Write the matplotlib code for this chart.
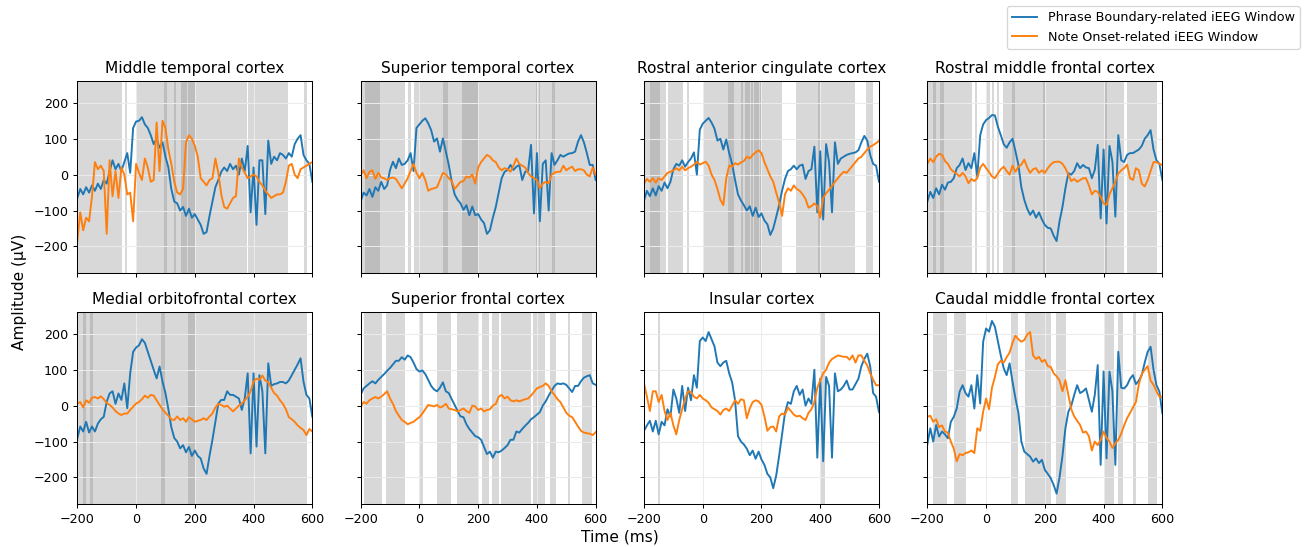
import numpy as np
import matplotlib
matplotlib.use('agg')
import matplotlib.pyplot as plt

# time axis of the averaged windows (ms), one sample every 10 ms
times = np.arange(-200, 601, 10)

regions = ['Middle temporal cortex', 'Superior temporal cortex',
           'Rostral anterior cingulate cortex', 'Rostral middle frontal cortex',
           'Medial orbitofrontal cortex', 'Superior frontal cortex',
           'Insular cortex', 'Caudal middle frontal cortex']

# phrase boundary-related averages (uV)
pb_mt = [-65, -40, -55, -35, -50, -30, -45, -25, -40, -15,
         -25, 10, 40, 15, 30, 10, 35, 60, 5, 130,
         148, 150, 160, 140, 130, 110, 85, 100, 75, 90,
         50, 20, -40, -75, -80, -100, -90, -115, -95, -120,
         -110, -125, -140, -165, -160, -115, -75, -35, -15, 8,
         20, 10, 30, 15, 25, 0, 45, 10, 80, -105,
         20, -140, 40, 40, -110, 95, 30, 50, 40, 60,
         55, 45, 60, 50, 85, 100, 110, 55, 40, 30,
         -20]
pb_st = [-75, -50, -58, -40, -62, -35, -45, -20, -40, -30,
         13, 36, 18, 45, 27, 30, 40, 60, 10, 130,
         140, 150, 157, 143, 124, 92, 101, 64, 101, 64,
         27, -20, -55, -70, -80, -98, -85, -113, -89, -113,
         -110, -125, -135, -165, -155, -120, -90, -50, -10, 8,
         13, 27, 13, 22, 27, -15, 8, 10, 83, -108,
         60, -130, 30, 40, -100, 60, 27, 40, 55, 50,
         55, 59, 60, 64, 92, 110, 90, 60, 27, 27,
         -15]
pb_rac = [-72, -45, -60, -38, -58, -32, -45, -22, -38, -20,
          15, 30, 25, 40, 22, 35, 45, 62, 0, 125,
          142, 150, 158, 145, 128, 95, 100, 70, 98, 60,
          30, -15, -55, -72, -85, -100, -88, -115, -92, -118,
          -108, -128, -138, -168, -150, -118, -85, -45, -12, 10,
          15, 25, 15, 25, 28, -12, 10, 15, 78, -105,
          65, -125, 85, 35, -105, 90, 30, 45, 50, 55,
          58, 60, 62, 68, 90, 108, 95, 55, 30, 25,
          -20]
pb_rmf = [-75, -48, -65, -38, -55, -28, -42, -22, -20, -10,
          18, 27, 45, 13, 32, 18, 60, -5, 110, 140,
          152, 158, 166, 165, 134, 110, 85, 75, 90, 100,
          65, 27, -35, -70, -95, -112, -100, -120, -105, -125,
          -140, -148, -150, -170, -185, -130, -90, -38, 4, 0,
          10, 32, 18, 27, 20, 18, -10, 13, 83, -122,
          70, -136, 80, 36, -117, 110, 40, 35, 55, 60,
          60, 65, 70, 80, 100, 110, 124, 70, 40, 30,
          -15]
pb_mof = [-91, -58, -72, -45, -75, -58, -72, -50, -38, -31,
          11, 34, 40, 5, 34, 16, 62, -7, 90, 150,
          162, 168, 185, 175, 150, 125, 100, 76, 109, 67,
          35, -10, -60, -90, -100, -119, -110, -130, -115, -140,
          -125, -140, -147, -175, -190, -140, -95, -45, 6, 16,
          16, 40, 30, 30, 25, 20, -12, 20, 90, -133,
          90, -114, 85, 40, -133, 118, 55, 60, 62, 66,
          66, 62, 70, 85, 100, 115, 132, 67, 30, 20,
          -31]
pb_sf = [30, 48, 55, 62, 68, 62, 72, 80, 88, 97,
         105, 115, 125, 125, 135, 128, 140, 135, 120, 102,
         95, 98, 88, 72, 55, 45, 40, 50, 65, 40,
         35, 18, 2, -15, -30, -32, -52, -65, -75, -85,
         -88, -95, -115, -135, -128, -145, -128, -130, -125, -118,
         -110, -95, -95, -72, -75, -65, -56, -48, -38, -32,
         -25, -18, 0, 12, 28, 42, 55, 62, 60, 62,
         58, 48, 38, 55, 55, 68, 78, 82, 85, 62,
         58]
pb_ins = [-70, -55, -42, -72, -42, -80, -45, -55, -10, -30,
          45, 20, -20, 55, -15, 50, 15, 85, 50, 180,
          190, 180, 205, 185, 165, 120, 110, 120, 125, 90,
          65, 15, -85, -100, -108, -120, -138, -125, -148, -128,
          -150, -165, -190, -200, -230, -195, -140, -80, -20, 10,
          5, 40, 55, 30, 45, 0, 20, 5, 100, -145,
          75, -155, 80, 55, -145, 90, 40, 45, 55, 70,
          45, 45, 60, 75, 110, 130, 145, 110, 35, 25,
          -18]
pb_cmf = [-108, -63, -100, -54, -86, -72, -80, -91, -45, -31,
          -8, 39, 57, 35, 25, 57, -8, 85, 6, 178,
          215, 206, 236, 220, 180, 140, 104, 85, 118, 67,
          20, -20, -100, -128, -135, -142, -156, -147, -160, -151,
          -179, -190, -202, -221, -245, -200, -140, -63, -17, 0,
          30, 57, 35, 40, 48, 16, -17, 30, 113, -165,
          95, -147, 95, 40, -165, 150, 50, 48, 57, 75,
          85, 60, 70, 85, 120, 150, 164, 100, 57, 39,
          -21]

# note onset-related averages (uV)
no_mt = [-185, -105, -155, -120, -130, -60, 35, 15, 25, 10,
         -165, 40, -60, 10, -65, 20, 0, -55, -50, -130,
         30, 5, -15, 45, 20, -20, -15, 145, 10, 150,
         130, 70, 30, -20, -50, -55, -40, 90, 110, 100,
         80, 50, -10, -20, -30, -15, -10, 45, 5, -55,
         -90, -95, -80, -65, -60, 45, 20, 5, -10, -5,
         0, -5, -20, -30, -45, -55, -65, -60, -55, -55,
         -50, -20, 25, 30, 0, -10, 15, 20, 25, 30,
         35]
no_st = [0, 12, -10, 8, 12, -12, 5, -8, -10, -15,
         -10, -8, -12, -25, -38, -25, -10, 10, 30, 5,
         -10, 5, -15, -45, -40, -38, -35, -15, 5, 0,
         -10, -18, -40, -30, -20, -18, -5, -8, 0, -25,
         20, 35, 45, 55, 50, 40, 35, 20, 12, 18,
         15, 8, 25, 45, 30, 25, 20, 5, -5, -10,
         -15, -38, -25, -20, -25, 0, 5, 8, 8, 25,
         12, 18, 22, 10, 15, 15, 12, 0, -5, 20,
         0]
no_rac = [-25, -12, -20, -10, -22, -10, -15, -5, 5, 8,
          12, 18, 12, 22, 12, 18, 22, 28, 36, 28,
          32, 36, 25, 0, -15, -40, -70, -85, -10, 25,
          22, 32, 28, 34, 38, 50, 45, 55, 62, 68,
          60, 35, 15, -5, -20, -50, -78, -115, -55, -38,
          -45, -30, -40, -45, -55, -68, -92, -88, -80, -88,
          -120, -65, -52, -42, -32, -20, -10, 0, 8, 5,
          15, 25, 35, 45, 50, 60, 70, 78, 82, 88,
          94]
no_rmf = [30, 45, 35, 50, 58, 55, 38, 30, 15, 8,
          2, -5, 5, -5, -24, -12, -18, -10, 20, 30,
          18, 8, -5, -10, 3, 15, 22, 10, 0, 25,
          8, 22, 28, 42, 20, 5, 15, 18, 5, 12,
          5, 18, 28, 35, 36, 36, 30, 18, 0, -18,
          -12, -20, -15, -10, -10, -30, -55, -45, -48, -62,
          -80, -85, -55, -38, -20, 3, 12, 18, 28, -10,
          -15, 18, 12, -25, -33, -15, 10, 35, 35, 30,
          27]
no_mof = [6, 10, -5, 15, 8, 22, 24, 20, 26, 18,
          8, 2, -5, -15, -22, -26, -22, -22, -12, -3,
          6, 10, 18, 28, 22, 30, 28, 15, 2, -10,
          -20, -28, -38, -40, -30, -40, -35, -45, -32, -38,
          -45, -42, -40, -35, -40, -30, -22, -5, 5, 2,
          -3, 0, -8, -16, -8, 0, 6, 15, 25, 40,
          68, 75, 72, 84, 70, 65, 50, 35, 28, 15,
          5, -10, -32, -38, -45, -55, -62, -68, -82, -65,
          -72]
no_sf = [-3, 10, 6, 15, 20, 24, 20, 25, 32, 40,
         20, 5, -15, -28, -40, -45, -52, -48, -45, -38,
         -32, -22, -10, 2, 0, -2, 2, -5, -2, 5,
         -8, -10, -12, -16, -12, -8, -15, -20, 0, -2,
         -12, -8, -16, -12, -10, 0, 5, 25, 30, 20,
         25, 15, 12, 15, 12, 15, 18, 20, 28, 38,
         48, 52, 55, 62, 55, 40, 30, 18, 10, -5,
         -20, -28, -32, -45, -58, -70, -75, -77, -78, -82,
         -74]
no_ins = [62, 25, -15, 40, 40, 10, 30, -15, -40, -20,
          -55, -80, -40, -10, 20, 40, 38, 25, 20, 30,
          20, 15, 8, -5, -10, -15, -25, -12, -8, -15,
          0, 15, 5, 18, 15, -35, -8, 10, 15, 12,
          2, -30, -70, -60, -58, -72, -30, -22, -25, -5,
          -15, -25, -30, -28, -35, -40, -20, -10, 10, 50,
          70, 90, 100, 120, 130, 135, 140, 138, 136, 136,
          128, 140, 120, 140, 140, 125, 112, 90, 72, 57,
          57]
no_cmf = [-31, -28, -45, -38, -60, -55, -72, -75, -100, -120,
          -155, -135, -138, -132, -130, -125, -132, -63, -70, -17,
          20, -10, 50, 80, 115, 125, 120, 135, 148, 175,
          195, 185, 178, 183, 198, 205, 140, 130, 136, 122,
          128, 110, 108, 90, 82, 70, 40, 71, 30, -10,
          -30, -42, -54, -75, -72, -85, -125, -100, -110, -95,
          -72, -90, -100, -118, -105, -95, -78, -55, -35, -20,
          -5, 10, 60, 88, 100, 110, 70, 58, 40, 25,
          25]

phrase = [pb_mt, pb_st, pb_rac, pb_rmf, pb_mof, pb_sf, pb_ins, pb_cmf]
onset = [no_mt, no_st, no_rac, no_rmf, no_mof, no_sf, no_ins, no_cmf]

# significant windows (ms); overlapping windows show up darker
sig_windows = [
    [(-200, -49), (-38, -32), (2, 377), (382, 518), (570, 581),
     (95, 106), (129, 136), (153, 172), (178, 200)],
    [(-200, -50), (-38, -30), (-18, 600),
     (-186, -135), (81, 96), (145, 198), (397, 400), (406, 412), (450, 461)],
    [(-200, -124), (-118, -67), (-52, -48), (3, 270), (316, 518), (555, 580),
     (-181, -147), (85, 107), (130, 136), (143, 160), (165, 170), (175, 190),
     (195, 200), (394, 401)],
    [(-200, -49), (-38, -32), (0, 14), (20, 27), (38, 44), (57, 470), (479, 583),
     (-182, -170), (-157, -143), (87, 99), (195, 199), (400, 411)],
    [(-200, 583),
     (-180, -170), (-157, -145), (84, 97), (178, 200)],
    [(-190, -128), (-114, -50), (1, 12), (60, 108), (128, 204), (213, 237),
     (247, 271), (279, 379), (385, 426), (444, 464), (505, 513), (555, 589)],
    [(-152, -146), (402, 417)],
    [(-180, -132), (-110, -67), (86, 109), (133, 221), (237, 273), (402, 437),
     (450, 466), (500, 511), (551, 583)],
]

fig, axes = plt.subplots(2, 4, figsize=(1306/92, 547/92), dpi=92,
                         sharex=True, sharey=True)
fig.subplots_adjust(left=0.0592, right=0.890, top=0.852, bottom=0.0786,
                    wspace=0.2057, hspace=0.203)

for ax, name, pb, no, wins in zip(axes.flat, regions, phrase, onset, sig_windows):
    for start, end in wins:
        ax.axvspan(start, end, color='gray', alpha=0.3, lw=0)
    ax.grid(True, color='#ebebeb', lw=0.8)
    ax.plot(times, pb, color='tab:blue', lw=1.5,
            label='Phrase Boundary-related iEEG Window')
    ax.plot(times, no, color='tab:orange', lw=1.5,
            label='Note Onset-related iEEG Window')
    ax.set_title(name, fontsize=12)
    ax.tick_params(labelsize=10)

ax = axes[0, 0]
ax.set_xlim(-200, 600)
ax.set_ylim(-274, 261)
ax.set_xticks([-200, 0, 200, 400, 600])
ax.set_yticks([-200, -100, 0, 100, 200])

handles, labels = axes[0, 0].get_legend_handles_labels()
fig.legend(handles, labels, loc='upper right', fontsize=10)
fig.text(0.4746, 0.018, 'Time (ms)', ha='center', va='center', fontsize=12)
fig.text(0.0153, 0.466, 'Amplitude (µV)', ha='center', va='center',
         rotation=90, fontsize=12)

plt.savefig('out.png')
